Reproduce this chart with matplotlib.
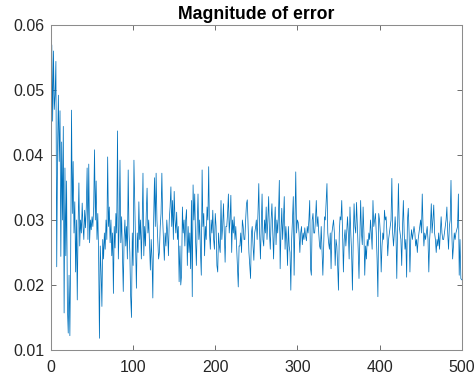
import numpy as np
import matplotlib
matplotlib.use('Agg')
import matplotlib.pyplot as plt

plt.rcParams['font.family'] = ['Liberation Sans', 'DejaVu Sans']

TITLE = 'Magnitude of error'
LINE_COLOR = '#0072BD'
AXIS_COLOR = '#262626'
SPINE_COLOR = '#8c8c8c'

# error magnitude per sample
err = [
    0.0569, 0.0452, 0.0560, 0.0470, 0.0492, 0.0544, 0.0228, 0.0408, 0.0492, 0.0390,
    0.0468, 0.0244, 0.0420, 0.0300, 0.0444, 0.0157, 0.0380, 0.0245, 0.0360, 0.0165,
    0.0126, 0.0215, 0.0122, 0.0250, 0.0469, 0.0310, 0.0390, 0.0280, 0.0328, 0.0220,
    0.0300, 0.0177, 0.0290, 0.0357, 0.0260, 0.0300, 0.0280, 0.0326, 0.0290, 0.0270,
    0.0315, 0.0288, 0.0320, 0.0380, 0.0270, 0.0386, 0.0265, 0.0300, 0.0285, 0.0305,
    0.0290, 0.0320, 0.0408, 0.0300, 0.0360, 0.0270, 0.0310, 0.0245, 0.0118, 0.0260,
    0.0220, 0.0167, 0.0270, 0.0240, 0.0280, 0.0255, 0.0300, 0.0270, 0.0397, 0.0290,
    0.0320, 0.0265, 0.0300, 0.0245, 0.0280, 0.0187, 0.0290, 0.0257, 0.0310, 0.0280,
    0.0437, 0.0240, 0.0290, 0.0392, 0.0265, 0.0305, 0.0250, 0.0190, 0.0270, 0.0300,
    0.0260, 0.0290, 0.0240, 0.0377, 0.0280, 0.0250, 0.0182, 0.0150, 0.0280, 0.0230,
    # 101-200
    0.0392, 0.0330, 0.0260, 0.0195, 0.0280, 0.0250, 0.0328, 0.0270, 0.0300, 0.0240,
    0.0290, 0.0372, 0.0245, 0.0290, 0.0260, 0.0310, 0.0349, 0.0280, 0.0300, 0.0260,
    0.0223, 0.0270, 0.0240, 0.0180, 0.0300, 0.0365, 0.0290, 0.0372, 0.0300, 0.0270,
    0.0240, 0.0250, 0.0290, 0.0310, 0.0372, 0.0300, 0.0270, 0.0238, 0.0280, 0.0260,
    0.0300, 0.0280, 0.0245, 0.0300, 0.0320, 0.0351, 0.0290, 0.0330, 0.0270, 0.0344,
    0.0300, 0.0280, 0.0312, 0.0270, 0.0290, 0.0205, 0.0260, 0.0200, 0.0215, 0.0320,
    0.0280, 0.0300, 0.0260, 0.0300, 0.0316, 0.0230, 0.0290, 0.0250, 0.0280, 0.0225,
    0.0330, 0.0182, 0.0354, 0.0300, 0.0340, 0.0270, 0.0230, 0.0290, 0.0340, 0.0270,
    0.0300, 0.0250, 0.0215, 0.0377, 0.0290, 0.0310, 0.0245, 0.0290, 0.0270, 0.0320,
    0.0300, 0.0382, 0.0280, 0.0255, 0.0300, 0.0280, 0.0315, 0.0270, 0.0255, 0.0310,
    # 201-300
    0.0290, 0.0230, 0.0220, 0.0280, 0.0260, 0.0250, 0.0330, 0.0270, 0.0290, 0.0325,
    0.0280, 0.0235, 0.0290, 0.0290, 0.0310, 0.0340, 0.0280, 0.0300, 0.0338, 0.0250,
    0.0300, 0.0280, 0.0305, 0.0270, 0.0290, 0.0260, 0.0230, 0.0197, 0.0260, 0.0260,
    0.0280, 0.0250, 0.0300, 0.0290, 0.0270, 0.0270, 0.0300, 0.0325, 0.0331, 0.0290,
    0.0250, 0.0230, 0.0210, 0.0280, 0.0290, 0.0260, 0.0238, 0.0280, 0.0288, 0.0300,
    0.0270, 0.0310, 0.0356, 0.0280, 0.0240, 0.0290, 0.0340, 0.0270, 0.0260, 0.0300,
    0.0280, 0.0320, 0.0270, 0.0300, 0.0336, 0.0280, 0.0255, 0.0300, 0.0325, 0.0280,
    0.0240, 0.0290, 0.0320, 0.0262, 0.0300, 0.0280, 0.0310, 0.0361, 0.0225, 0.0280,
    0.0318, 0.0270, 0.0300, 0.0336, 0.0255, 0.0290, 0.0270, 0.0230, 0.0290, 0.0260,
    0.0250, 0.0192, 0.0270, 0.0300, 0.0336, 0.0215, 0.0290, 0.0374, 0.0280, 0.0300,
    # 301-400
    0.0296, 0.0280, 0.0250, 0.0280, 0.0290, 0.0262, 0.0280, 0.0270, 0.0288, 0.0275,
    0.0268, 0.0290, 0.0280, 0.0300, 0.0330, 0.0225, 0.0215, 0.0300, 0.0310, 0.0280,
    0.0280, 0.0300, 0.0330, 0.0290, 0.0305, 0.0280, 0.0260, 0.0255, 0.0290, 0.0250,
    0.0215, 0.0260, 0.0305, 0.0300, 0.0330, 0.0356, 0.0280, 0.0265, 0.0255, 0.0280,
    0.0225, 0.0280, 0.0290, 0.0300, 0.0280, 0.0230, 0.0270, 0.0260, 0.0230, 0.0192,
    0.0280, 0.0305, 0.0300, 0.0330, 0.0280, 0.0220, 0.0270, 0.0285, 0.0260, 0.0280,
    0.0305, 0.0280, 0.0240, 0.0320, 0.0280, 0.0250, 0.0192, 0.0270, 0.0325, 0.0290,
    0.0280, 0.0327, 0.0290, 0.0255, 0.0210, 0.0270, 0.0330, 0.0280, 0.0262, 0.0320,
    0.0280, 0.0215, 0.0260, 0.0240, 0.0270, 0.0260, 0.0280, 0.0270, 0.0300, 0.0280,
    0.0255, 0.0330, 0.0290, 0.0300, 0.0310, 0.0280, 0.0240, 0.0182, 0.0310, 0.0300,
    # 401-500
    0.0280, 0.0220, 0.0260, 0.0280, 0.0270, 0.0315, 0.0300, 0.0305, 0.0280, 0.0245,
    0.0270, 0.0280, 0.0290, 0.0300, 0.0364, 0.0280, 0.0260, 0.0280, 0.0305, 0.0280,
    0.0210, 0.0290, 0.0356, 0.0290, 0.0280, 0.0270, 0.0230, 0.0290, 0.0330, 0.0280,
    0.0255, 0.0270, 0.0212, 0.0300, 0.0318, 0.0280, 0.0220, 0.0270, 0.0285, 0.0270,
    0.0280, 0.0290, 0.0280, 0.0260, 0.0270, 0.0250, 0.0270, 0.0280, 0.0290, 0.0300,
    0.0280, 0.0340, 0.0290, 0.0260, 0.0280, 0.0270, 0.0280, 0.0290, 0.0270, 0.0220,
    0.0270, 0.0290, 0.0325, 0.0280, 0.0300, 0.0323, 0.0280, 0.0270, 0.0250, 0.0270,
    0.0260, 0.0280, 0.0255, 0.0280, 0.0305, 0.0280, 0.0270, 0.0270, 0.0280, 0.0290,
    0.0300, 0.0320, 0.0280, 0.0255, 0.0290, 0.0300, 0.0361, 0.0280, 0.0240, 0.0260,
    0.0280, 0.0270, 0.0280, 0.0285, 0.0290, 0.0340, 0.0215, 0.0270, 0.0210, 0.0208,
]

x_ticks = [0, 100, 200, 300, 400, 500]
y_ticks = [0.01, 0.02, 0.03, 0.04, 0.05, 0.06]

fig = plt.figure(figsize=(4.76, 3.78), dpi=100)
ax = fig.add_axes([0.1071, 0.0741, 0.8628, 0.8598])

x = np.arange(1, len(err) + 1)
ax.plot(x, err, color=LINE_COLOR, linewidth=0.55)

ax.set_xlim(0, 500)
ax.set_ylim(0.01, 0.06)
ax.set_xticks(x_ticks)
ax.set_yticks(y_ticks)
ax.set_xticklabels([str(t) for t in x_ticks])
ax.set_yticklabels(['%.2f' % t for t in y_ticks])

for s in ax.spines.values():
    s.set_color(SPINE_COLOR)
    s.set_linewidth(0.75)
ax.tick_params(direction='in', length=3.5, width=0.6, color='#555555',
               labelcolor=AXIS_COLOR, labelsize=11.5, top=True, right=True)
ax.tick_params(axis='x', pad=7)
ax.tick_params(axis='y', pad=5)

ax.set_title(TITLE, fontsize=12.7, fontweight='bold', pad=4)

fig.savefig('out.png', dpi=100, facecolor='white')
